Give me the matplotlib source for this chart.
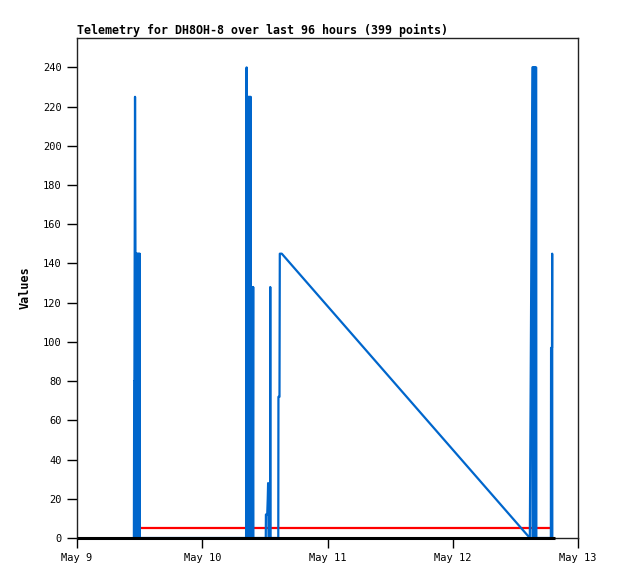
"""Telemetry chart for DH8OH-8
"""
import numpy as np
import matplotlib
matplotlib.use('Agg')
import matplotlib.pyplot as plt

# hours after May 9 00:00 and the values
start = np.datetime64('2024-05-09T00:00')
value_hours = [10.90, 10.96, 11.00, 11.12, 11.20, 11.30, 11.38, 11.46, 11.54,
               11.62, 11.70, 11.78, 11.86, 11.94, 12.02, 12.04,
               32.40, 32.50, 32.56, 32.64, 32.72, 32.80, 32.88, 32.96, 33.04,
               33.12, 33.20, 33.28, 33.36, 33.44, 33.52, 33.60, 33.68, 33.76,
               33.80,
               36.17, 36.20, 36.45, 36.55, 36.62, 36.70, 37.00, 37.03, 37.06,
               38.57, 38.60, 38.80, 38.86, 39.24,
               86.77, 87.26, 87.34, 87.42, 87.50, 87.58, 87.66, 87.74, 87.82,
               87.90, 87.99, 88.02,
               90.80, 90.84, 91.02, 91.05, 91.08]
values = [0, 80, 80, 225, 145, 0, 145, 0, 145,
          0, 145, 0, 145, 0, 145, 0,
          0, 240, 0, 225, 0, 225, 0, 225, 0,
          225, 0, 225, 0, 128, 0, 128, 0, 128,
          0,
          0, 12, 12, 20, 28, 0, 0, 128, 0,
          0, 72, 72, 145, 145,
          0, 240, 0, 240, 0, 240, 0, 240, 0,
          240, 240, 0,
          0, 97, 97, 145, 0]

limit_hours = [12.02, 90.80]
limit_values = [5, 5]

zero_hours = [0.0, 91.57]
zero_values = [0, 0]

tick_days = [0, 1, 2, 3, 4]
tick_labels = ['May 9', 'May 10', 'May 11', 'May 12', 'May 13']


def to_dates(hours):
    return start + (np.array(hours) * 3600).astype('timedelta64[s]')


mono = 'DejaVu Sans Mono'
fig = plt.figure(figsize=(6.18, 5.79), dpi=100)
ax = fig.add_axes([77 / 618, 1 - 538 / 579, 501 / 618, 500 / 579])

ax.plot(to_dates(limit_hours), limit_values, color='#ff0000', lw=1.6)
ax.plot(to_dates(value_hours), values, color='#0066cc', lw=1.6)
ax.plot(to_dates(zero_hours), zero_values, color='black', lw=2.2,
        solid_capstyle='butt', clip_on=False, zorder=3)

ax.set_xlim(to_dates([0, 96]))
ax.set_ylim(0, 255)
ax.set_yticks(np.arange(0, 241, 20))
ax.set_xticks(to_dates(np.array(tick_days) * 24))
ax.set_xticklabels(tick_labels)
ax.tick_params(direction='out', length=7, width=1, labelsize=7.5,
               top=False, right=False, pad=4)
for lab in ax.get_xticklabels() + ax.get_yticklabels():
    lab.set_family(mono)
for sp in ax.spines.values():
    sp.set_linewidth(1)
    sp.set_color('#222222')

ax.set_ylabel('Values', fontfamily=mono, fontweight='bold', fontsize=8.5)
ax.yaxis.set_label_coords(-0.09, 0.5)
ax.set_title('Telemetry for DH8OH-8 over last 96 hours (399 points)',
             fontfamily=mono, fontweight='bold', fontsize=8.4, loc='left',
             pad=3)

fig.savefig('out.png', dpi=100)
